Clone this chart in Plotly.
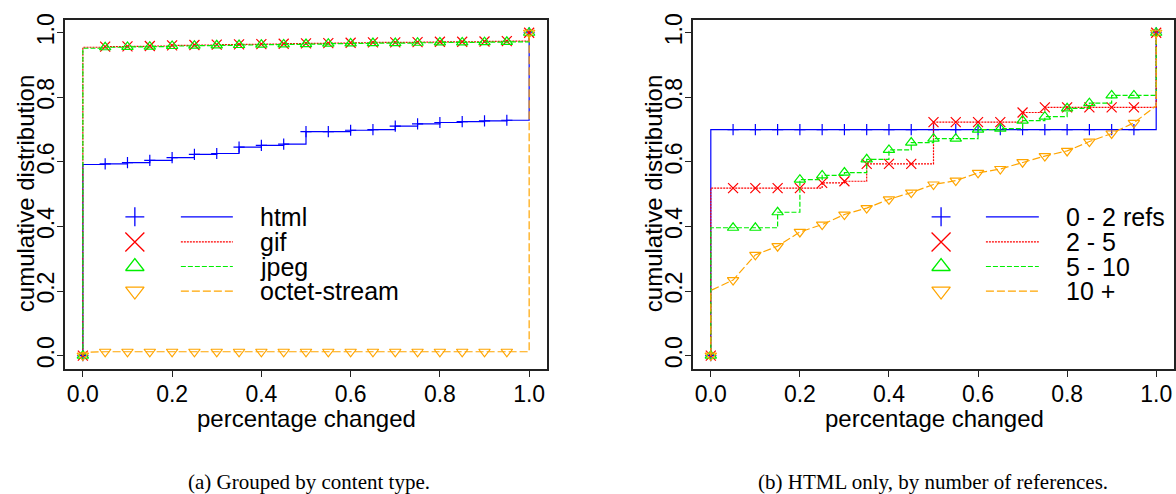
import plotly.graph_objects as go

# ---------------- data ----------------
marks = [0.05, 0.10, 0.15, 0.20, 0.25, 0.30, 0.35, 0.40, 0.45, 0.50,
         0.55, 0.60, 0.65, 0.70, 0.75, 0.80, 0.85, 0.90, 0.95]
x_ticks = [0.0, 0.2, 0.4, 0.6, 0.8, 1.0]
x_tick_text = ["0.0", "0.2", "0.4", "0.6", "0.8", "1.0"]
y_ticks = [0.0, 0.2, 0.4, 0.6, 0.8, 1.0]
y_tick_text = ["0.0", "0.2", "0.4", "0.6", "0.8", "1.0"]

# (a) grouped by content type
names_a = ["html", "gif", "jpeg", "octet-stream"]
html_start, html_end = 0.592, 0.732
html_vals = [0.594, 0.598, 0.605, 0.613, 0.623, 0.626, 0.646, 0.651, 0.655, 0.694,
             0.694, 0.698, 0.700, 0.711, 0.718, 0.722, 0.725, 0.727, 0.729]
gif_start, gif_end = 0.955, 0.975
gif_vals = [0.957, 0.958, 0.959, 0.961, 0.962, 0.963, 0.964, 0.965, 0.966, 0.967,
            0.968, 0.969, 0.970, 0.970, 0.971, 0.972, 0.972, 0.973, 0.974]
jpeg_start, jpeg_end = 0.952, 0.973
jpeg_vals = [0.955, 0.956, 0.957, 0.959, 0.960, 0.961, 0.962, 0.963, 0.964, 0.965,
             0.966, 0.967, 0.968, 0.968, 0.969, 0.970, 0.970, 0.971, 0.972]
octet_start, octet_end = 0.010, 0.012
octet_vals = [0.012, 0.012, 0.012, 0.012, 0.012, 0.012, 0.012, 0.012, 0.012, 0.012,
              0.012, 0.012, 0.012, 0.012, 0.012, 0.012, 0.012, 0.012, 0.012]

# (b) HTML only, by number of references
names_b = ["0 - 2 refs", "2 - 5", "5 - 10", "10 +"]
r02_start, r02_end = 0.700, 0.700
r02_vals = [0.700, 0.700, 0.700, 0.700, 0.700, 0.700, 0.700, 0.700, 0.700, 0.700,
            0.700, 0.700, 0.700, 0.700, 0.700, 0.700, 0.700, 0.700, 0.700]
r25_start, r25_end = 0.519, 0.769
r25_vals = [0.519, 0.519, 0.519, 0.519, 0.535, 0.540, 0.594, 0.594, 0.594, 0.723,
            0.723, 0.723, 0.723, 0.753, 0.769, 0.769, 0.769, 0.769, 0.769]
r510_start, r510_end = 0.396, 0.806
r510_vals = [0.396, 0.396, 0.444, 0.545, 0.558, 0.567, 0.608, 0.637, 0.660, 0.672,
             0.672, 0.700, 0.703, 0.728, 0.740, 0.766, 0.782, 0.806, 0.806]
r10p_start, r10p_end = 0.202, 0.774
r10p_vals = [0.234, 0.312, 0.339, 0.383, 0.406, 0.437, 0.457, 0.484, 0.505, 0.530,
             0.542, 0.566, 0.578, 0.599, 0.618, 0.634, 0.663, 0.688, 0.721]

captions = ["(a) Grouped by content type.", "(b) HTML only, by number of references."]

# ---------------- styles ----------------
W, H = 1176, 494
colors = ["#0000FF", "#FF0000", "#00EE00", "#FFA500"]
symbols = ["cross-thin-open", "x-thin-open", "triangle-up-open", "triangle-down-open"]
msizes = [8, 10, 10, 10]
leg_msizes = [13.5, 19, 16, 16]
dashes = ["solid", "2px,1px", "5px,2px", "8px,3px"]
FONT = "Liberation Sans, Arial, sans-serif"

fig = go.Figure()

series_a = [(html_start, html_vals, html_end, "hv"),
            (gif_start, gif_vals, gif_end, "hv"),
            (jpeg_start, jpeg_vals, jpeg_end, "hv"),
            (octet_start, octet_vals, octet_end, "linear")]
series_b = [(r02_start, r02_vals, r02_end, "hv"),
            (r25_start, r25_vals, r25_end, "hv"),
            (r510_start, r510_vals, r510_end, "hv"),
            (r10p_start, r10p_vals, r10p_end, "linear")]


def add_series(series, xa, ya):
    for i, (s, vals, e, shape) in enumerate(series):
        lx = [0.0, 0.0] + marks + [1.0, 1.0]
        ly = [0.0, s] + list(vals) + [e, 1.0]
        fig.add_trace(go.Scatter(x=lx, y=ly, mode="lines", xaxis=xa, yaxis=ya,
                                 line=dict(color=colors[i], width=1.2, dash=dashes[i], shape=shape),
                                 showlegend=False, hoverinfo="skip"))
        mx = [0.0] + marks + [1.0]
        my = [0.0] + list(vals) + [1.0]
        fig.add_trace(go.Scatter(x=mx, y=my, mode="markers", xaxis=xa, yaxis=ya,
                                 marker=dict(symbol=symbols[i], size=msizes[i], color=colors[i],
                                             line=dict(color=colors[i], width=1.2)),
                                 showlegend=False))


add_series(series_a, "x", "y")
add_series(series_b, "x2", "y2")

# legends drawn inside plots (data coordinates of each panel)
leg_rows = [0.430, 0.352, 0.276, 0.200]
legends = [("x", "y", 0.1165, (0.2196, 0.3361), 0.395, names_a),
           ("x2", "y2", 0.517, (0.6177, 0.7365), 0.795, names_b)]
annotations = []
for xa, ya, mxp, (l0, l1), tx, names in legends:
    for i, name in enumerate(names):
        fig.add_trace(go.Scatter(x=[mxp], y=[leg_rows[i]], mode="markers", xaxis=xa, yaxis=ya,
                                 marker=dict(symbol=symbols[i], size=leg_msizes[i], color=colors[i],
                                             line=dict(color=colors[i], width=1.3)),
                                 showlegend=False, hoverinfo="skip"))
        fig.add_trace(go.Scatter(x=[l0, l1], y=[leg_rows[i], leg_rows[i]], mode="lines",
                                 xaxis=xa, yaxis=ya,
                                 line=dict(color=colors[i], width=1.2, dash=dashes[i]),
                                 showlegend=False, hoverinfo="skip"))
        annotations.append(dict(x=tx, y=leg_rows[i], xref=xa, yref=ya, text=name,
                                showarrow=False, xanchor="left", yanchor="middle",
                                borderpad=0,
                                font=dict(family=FONT, size=25, color="black")))

# axis titles and captions (pixel positions -> paper)
def px(x):
    return x / W


def py(y):
    return 1 - y / H


for cx, bx in [(306, 25), (934, 653)]:
    annotations.append(dict(x=px(cx), y=py(418), xref="paper", yref="paper",
                            text="percentage changed", showarrow=False,
                            xanchor="center", yanchor="middle", borderpad=0,
                            font=dict(family=FONT, size=24, color="black")))
    annotations.append(dict(x=px(bx), y=py(190.5), xref="paper", yref="paper",
                            text="cumulative distribution", showarrow=False, textangle=-90,
                            xanchor="center", yanchor="middle", borderpad=0,
                            font=dict(family=FONT, size=24, color="black")))
for cx, cap in zip([309, 933], captions):
    annotations.append(dict(x=px(cx), y=py(482), xref="paper", yref="paper",
                            text=cap, showarrow=False, xanchor="center", yanchor="middle",
                            font=dict(family="Liberation Serif, Times New Roman, serif",
                                      size=21, color="black")))

axis_common = dict(range=[-0.04, 1.04], showgrid=False, zeroline=False, showline=True,
                   mirror=True, linecolor="#222", linewidth=2, ticks="outside", ticklen=6,
                   tickwidth=1, tickcolor="#222",
                   tickfont=dict(family=FONT, size=23, color="black"))

fig.update_layout(
    width=W, height=H, margin=dict(l=0, r=0, t=0, b=0),
    paper_bgcolor="white", plot_bgcolor="white",
    showlegend=False,
    xaxis=dict(domain=[px(65), px(547)], anchor="y", tickvals=x_ticks, ticktext=x_tick_text,
               ticklabelstandoff=-2, **axis_common),
    yaxis=dict(domain=[py(367), py(14)], anchor="x", tickvals=y_ticks, ticktext=y_tick_text,
               tickangle=-90, ticklabelstandoff=-6, **axis_common),
    xaxis2=dict(domain=[px(693), px(1174)], anchor="y2", tickvals=x_ticks, ticktext=x_tick_text,
                ticklabelstandoff=-2, **axis_common),
    yaxis2=dict(domain=[py(367), py(14)], anchor="x2", tickvals=y_ticks, ticktext=y_tick_text,
                tickangle=-90, ticklabelstandoff=-6, **axis_common),
    annotations=annotations,
)

fig.write_html("out.html", config={"displayModeBar": False},
               post_script="document.body.style.margin='0px';")
